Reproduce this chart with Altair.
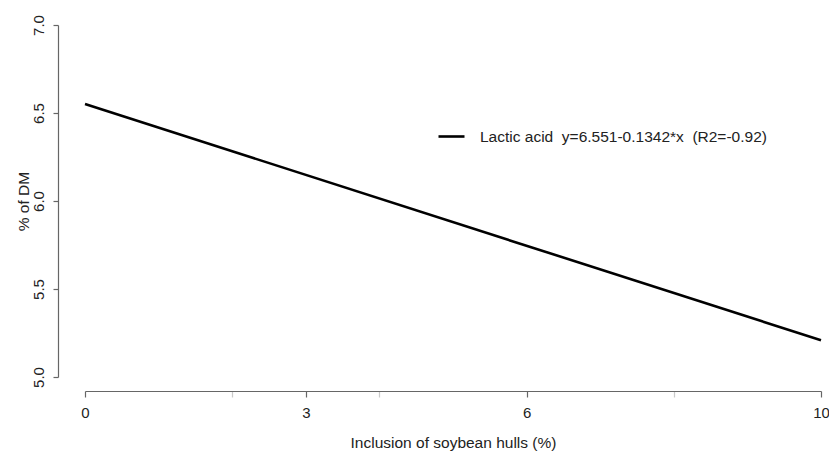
import altair as alt
import pandas as pd

# data
x_vals = [0, 10]
y_vals = [6.551, 5.209]
series = ["Lactic acid\u00a0\u00a0y=6.551-0.1342*x\u00a0\u00a0(R2=-0.92)"]
x_ticks = [0, 2, 3, 4, 6, 8, 10]
x_labeled = [0, 3, 6, 10]
y_ticks = [5.0, 5.5, 6.0, 6.5, 7.0]

df = pd.DataFrame({"x": x_vals, "y": y_vals, "s": series * len(x_vals)})

FONT = "Liberation Sans"
labeled_js = "[" + ",".join(str(v) for v in x_labeled) + "]"

chart = alt.Chart(df).mark_line(strokeWidth=2.6, color="black").encode(
    x=alt.X("x:Q",
            scale=alt.Scale(domain=[0, 10], nice=False, zero=False),
            axis=alt.Axis(values=x_ticks, title="Inclusion of soybean hulls (%)",
                          labelExpr=f"indexof({labeled_js}, datum.value) >= 0 ? datum.label : ''",
                          tickOpacity={"condition": {"test": f"indexof({labeled_js}, datum.value) >= 0", "value": 1}, "value": 0.35},
                          grid=False, offset=14, tickSize=6, labelPadding=8,
                          labelFontSize=15, titleFontSize=15.5, titlePadding=15,
                          titleFontWeight="normal", labelFont=FONT, titleFont=FONT,
                          labelFlush=False)),
    y=alt.Y("y:Q",
            scale=alt.Scale(domain=[5, 7], nice=False, zero=False),
            axis=alt.Axis(values=y_ticks, format=".1f", title="% of DM",
                          grid=False, offset=27, tickSize=5, labelAngle=270,
                          labelAlign="center", labelBaseline="bottom", labelPadding=7,
                          labelFontSize=15, titleFontSize=15.5, titlePadding=0,
                          titleFontWeight="normal", labelFont=FONT, titleFont=FONT)),
    color=alt.Color("s:N", scale=alt.Scale(range=["black"]),
                    legend=alt.Legend(title=None, orient="none", legendX=352, legendY=97,
                                      symbolType="stroke", symbolSize=676, symbolStrokeWidth=2.6,
                                      symbolStrokeColor="black", labelLimit=0,
                                      labelFontSize=15.5, labelOffset=14, labelFont=FONT,
                                      labelColor="#222", padding=0)),
).properties(
    width=736, height=352,
    background="white",
    autosize=alt.AutoSizeParams(type="none"),
    padding={"left": 77, "top": 17, "right": 8, "bottom": 80},
).configure_view(strokeWidth=0).configure_axis(
    labelColor="#222", titleColor="#222",
    domainColor="#666", tickColor="#666", domainWidth=1.2, tickWidth=1.2,
)

chart.save("out.html", embed_options={"renderer": "svg", "actions": False})
